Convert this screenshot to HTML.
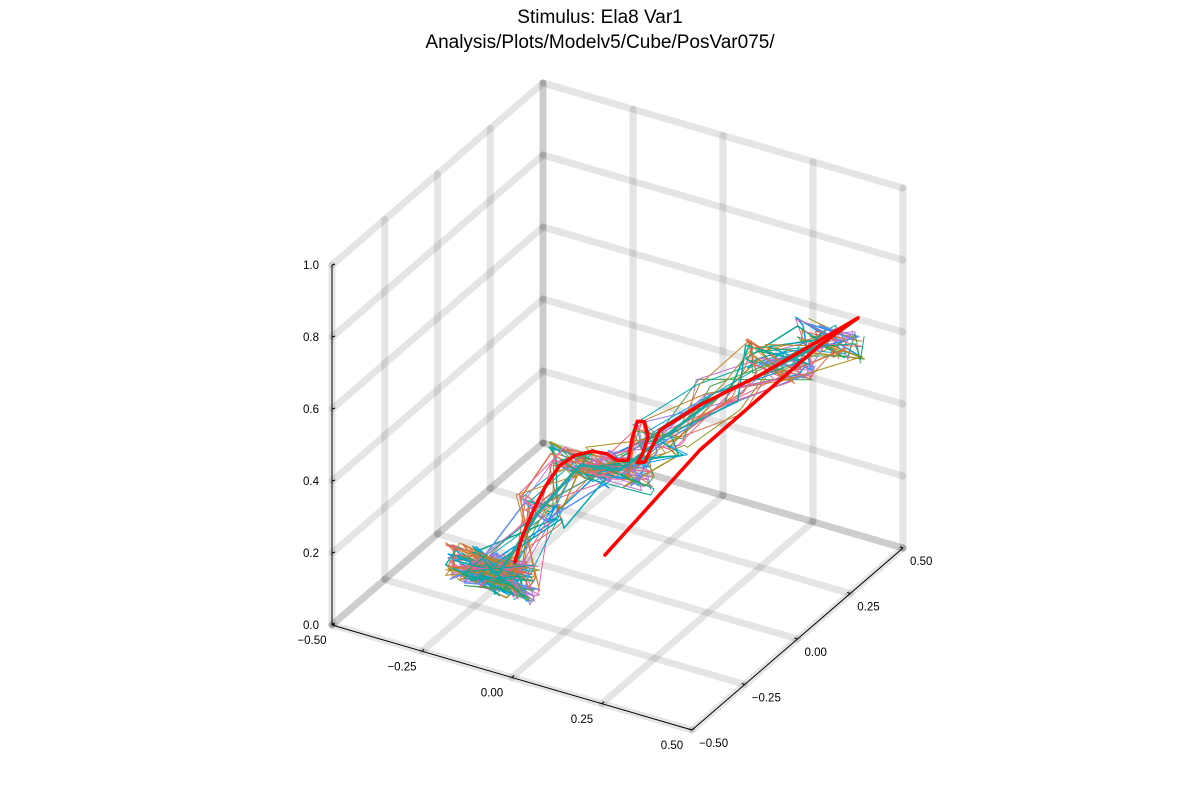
<!DOCTYPE html>
<html><head><meta charset="utf-8"><style>
html,body{margin:0;padding:0;background:#fff;}
svg{display:block;font-family:"Liberation Sans","DejaVu Sans",sans-serif;}
</style></head><body>
<svg id="chart" width="1200" height="800" viewBox="0 0 1200 800">
<rect width="1200" height="800" fill="#fff"/>
<text x="600" y="23" text-anchor="middle" font-size="19" fill="#000">Stimulus: Ela8 Var1</text>
<text x="600" y="48" text-anchor="middle" font-size="19" fill="#000">Analysis/Plots/Modelv5/Cube/PosVar075/</text>
<g id="grid"></g>
<g id="axes"></g>
<g id="series"></g>
<g id="mean"></g>
</svg>
<script>
// ---- chart data ----
const xTicks = [-0.5, -0.25, 0, 0.25, 0.5];
const yTicks = [-0.5, -0.25, 0, 0.25, 0.5];
const zTicks = [0, 0.2, 0.4, 0.6, 0.8, 1.0];
const xTickLabels = ["\u22120.50", "\u22120.25", "0.00", "0.25", "0.50"];
const yTickLabels = ["\u22120.50", "\u22120.25", "0.00", "0.25", "0.50"];
const zTickLabels = ["0.0", "0.2", "0.4", "0.6", "0.8", "1.0"];
// mean trajectory (red), [x, z] at y = 0
const meanX = [-0.285,-0.265,-0.235,-0.2,-0.16,-0.118,-0.07,-0.03,0.0,0.03,0.04,0.055,0.075,0.085,0.07,0.055,0.076,0.118,0.229,0.396,0.563,0.668,0.563,0.229,-0.035];
const meanZ = [-0.015,0.06,0.14,0.22,0.29,0.33,0.355,0.36,0.35,0.36,0.42,0.475,0.48,0.44,0.39,0.36,0.368,0.469,0.571,0.703,0.849,0.941,0.835,0.446,0.077];
// trial band waypoints [x, z] at y = 0 and their spreads
const wayX = [-0.354,-0.33,-0.215,-0.104,0.007,0.118,0.285,0.451,0.59];
const wayZ = [-0.063,-0.06,0.15,0.307,0.326,0.441,0.615,0.747,0.857];
const waySpread = [0.13,0.12,0.07,0.09,0.1,0.08,0.07,0.1,0.1];
const wayRepeats = [7,4,2,3,3,2,1,3,3];
const jitterDX = [0.8,-0.6,0.3,-0.9,0.5,-0.2,0.95,-0.45,0.1,-0.75,0.65,-0.3,0.2,-0.85,0.4,0.7,-0.1,-0.55,0.9,0.05,-0.95,0.35,0.6,-0.65,0.15,-0.4,0.85,-0.15,0.45,-0.8,0.25];
const jitterDZ = [0.3,-0.5,0.7,0.1,-0.8,0.45,-0.2,0.6,-0.35,-0.6,0.15,0.85,-0.7,0.25,-0.1,-0.4,0.55,0.9,-0.25,-0.9,0.4,-0.55,0.75,0.05,-0.3,0.65,-0.75,0.2,-0.45,0.5,-0.05];
const palette = ["#009AFA","#E36F47","#3EA44E","#C371D2","#AC8E18","#00AAAE","#ED5E93","#C68225","#00A98D","#8E971E","#00A9CD","#9B7FE9","#618DF6","#F05F73","#DD6433"];
const trialCount = 24;
// ---- projection ----
function proj(x, y, z){
  const a = x + 0.5, b = y + 0.5;
  return [332 + a*360 + b*211, 625 + a*105 - b*182 - z*360];
}
const NS = "http://www.w3.org/2000/svg";
function line(g, p, q, stroke, w, cap){
  const l = document.createElementNS(NS, "line");
  l.setAttribute("x1", p[0]); l.setAttribute("y1", p[1]);
  l.setAttribute("x2", q[0]); l.setAttribute("y2", q[1]);
  l.setAttribute("stroke", stroke); l.setAttribute("stroke-width", w);
  if (cap) l.setAttribute("stroke-linecap", cap);
  g.appendChild(l);
  return l;
}
function text(g, x, y, s, anchor){
  const t = document.createElementNS(NS, "text");
  t.setAttribute("x", x); t.setAttribute("y", y);
  t.setAttribute("font-size", "11.5"); t.setAttribute("fill", "#000");
  t.setAttribute("text-anchor", anchor);
  t.textContent = s;
  g.appendChild(t);
  return t;
}
const grid = document.getElementById("grid");
const gc = "rgba(0,0,0,0.1)";
yTicks.forEach(y => { const l = line(grid, proj(-0.5,y,0), proj(-0.5,y,1), gc, 7, "round");
  
   });
zTicks.forEach(z => { const l = line(grid, proj(-0.5,-0.5,z), proj(-0.5,0.5,z), gc, 7, "round");
  
   });
xTicks.forEach(x => { const l = line(grid, proj(x,0.5,0), proj(x,0.5,1), gc, 7, "round");
  
   });
zTicks.forEach(z => { const l = line(grid, proj(-0.5,0.5,z), proj(0.5,0.5,z), gc, 7, "round");
  
   });
xTicks.forEach(x => { const l = line(grid, proj(x,-0.5,0), proj(x,0.5,0), gc, 7, "round");
  
   });
yTicks.forEach(y => { const l = line(grid, proj(-0.5,y,0), proj(0.5,y,0), gc, 7, "round");
  
   });
const axes = document.getElementById("axes");
let ax = line(axes, proj(-0.5,-0.5,0), proj(0.5,-0.5,0), "#000", 1);


ax = line(axes, proj(0.5,-0.5,0), proj(0.5,0.5,0), "#000", 1);


ax = line(axes, proj(-0.5,-0.5,0), proj(-0.5,-0.5,1), "#000", 1);


xTicks.forEach((x,i) => { const p = proj(x,-0.5,0);
  line(axes, p, [p[0]+2, p[1]-2], "#000", 1);
  const t = text(axes, p[0]-20, p[1]+19, xTickLabels[i], "middle");
  
   });
yTicks.forEach((y,i) => { const p = proj(0.5,y,0);
  line(axes, p, [p[0]-3, p[1]-1], "#000", 1);
  const t = text(axes, p[0]+7, p[1]+17, yTickLabels[i], "start");
  
   });
zTicks.forEach((z,i) => { const p = proj(-0.5,-0.5,z);
  line(axes, p, [p[0]+3, p[1]-1], "#000", 1);
  const t = text(axes, p[0]-13, p[1]+4, zTickLabels[i], "end");
  
   });
const sg = document.getElementById("series");
for (let s = 0; s < trialCount; s++) {
  const col = palette[s % palette.length];
  const pts = [];
  for (let w = 0; w < wayX.length; w++) {
    for (let k = 0; k < wayRepeats[w]; k++) {
      const j = (s*7 + k*11 + w*5) % jitterDX.length;
      const j2 = (s*3 + k*13 + w*2 + 4) % jitterDZ.length;
      const x = wayX[w] + jitterDX[j]*waySpread[w];
      const z = wayZ[w] + jitterDZ[j2]*waySpread[w]*0.5;
      pts.push(proj(x, 0, z));
    }
  }
  const pl = document.createElementNS(NS, "polyline");
  pl.setAttribute("points", pts.map(p => p[0].toFixed(1)+","+p[1].toFixed(1)).join(" "));
  pl.setAttribute("fill", "none");
  pl.setAttribute("stroke", col);
  pl.setAttribute("stroke-width", s % 4 === 0 ? 1.5 : 1);
  pl.setAttribute("stroke-linejoin", "round");
  
  
  sg.appendChild(pl);
}
const band = document.createElementNS(NS, "polyline");
band.setAttribute("points", wayX.map((x,i) => proj(x,0,wayZ[i]).map(v=>v.toFixed(1)).join(",")).join(" "));
band.setAttribute("fill", "none");
band.setAttribute("stroke", "#20A6A0");
band.setAttribute("stroke-width", 3);
band.setAttribute("stroke-linejoin", "round");


sg.appendChild(band);
const mg = document.getElementById("mean");
const mp = document.createElementNS(NS, "polyline");
mp.setAttribute("points", meanX.map((x,i) => proj(x,0,meanZ[i]).map(v=>v.toFixed(1)).join(",")).join(" "));
mp.setAttribute("fill", "none");
mp.setAttribute("stroke", "#ff0000");
mp.setAttribute("stroke-width", 3.5);
mp.setAttribute("stroke-linejoin", "round");
mp.setAttribute("stroke-linecap", "round");


mg.appendChild(mp);
</script>
</body></html>
